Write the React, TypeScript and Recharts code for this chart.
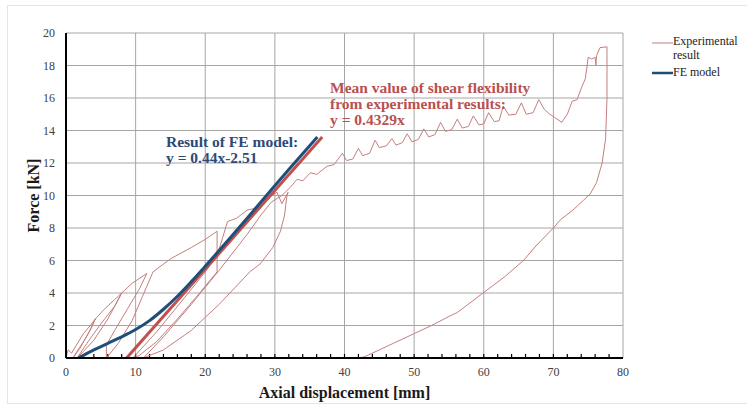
import { ComposedChart, Line, XAxis, YAxis, CartesianGrid, ReferenceLine } from 'recharts';

// axis ticks
const xTicks = [0, 10, 20, 30, 40, 50, 60, 70, 80];
const yTicks = [0, 2, 4, 6, 8, 10, 12, 14, 16, 18, 20];
const minorTicks = [2, 4, 6, 8, 10, 12, 14, 16, 18, 20, 22, 24, 26, 28, 30, 32, 34, 36, 38, 40,
  42, 44, 46, 48, 50, 52, 54, 56, 58, 60, 62, 64, 66, 68, 70, 72, 74, 76, 78];

// experimental result, read cycle by cycle [displacement mm, force kN]
const cycle1 = [[0, 0], [0.3, 0.5], [0.8, 0.3], [1.5, 0.8], [2.5, 1.5], [3.5, 2.0], [4.2, 2.4],
  [3.6, 1.8], [2.5, 1.0], [1.5, 0.35], [1.0, 0]];
const cycle2 = [[1.0, 0], [2, 0.6], [3.2, 1.5], [4.2, 2.4], [5.5, 3.0], [7, 3.6], [8, 4.0],
  [7.4, 3.5], [6, 2.4], [4, 1.1], [2.5, 0.4], [1.6, 0]];
const cycle3 = [[1.6, 0], [3, 0.9], [5, 2.1], [7, 3.2], [8, 4.0], [9.5, 4.6], [11.6, 5.2],
  [10.6, 4.3], [8.8, 3.0], [7, 1.7], [5.8, 0.8], [5.8, 0]];
const cycle4 = [[5.8, 0], [7.5, 0.9], [9.5, 2.3], [11, 3.8], [12.5, 5.3], [15, 6.1], [18, 6.8],
  [20, 7.3], [21.7, 7.8], [21.7, 5.3], [19, 3.9], [16, 2.4], [13, 1.0], [10.5, 0.15], [9.6, 0]];
const cycle5 = [[9.6, 0], [13, 1.6], [17, 3.7], [20, 5.3], [21.7, 6.3], [22.5, 7.4], [23.2, 8.4],
  [24.5, 8.6], [26, 9.1], [27, 9.2], [28, 9.6], [29.6, 10.0], [30.3, 10.2], [31, 9.5], [31.9, 10.2],
  [31.7, 9.9], [31.4, 8.8], [30.8, 7.8], [29.7, 6.8], [27.9, 5.8], [26.4, 5.3], [22, 3.3],
  [18, 1.7], [14, 0.5], [11.1, 0]];
const cycle6 = [[11.1, 0], [14, 1.3], [18, 3.3], [22, 5.4], [26, 7.6], [28, 8.8], [29.5, 9.6],
  [31, 10.0], [32.2, 10.5], [33.2, 11.0], [34.0, 10.9], [35.1, 11.4], [36, 11.3], [37.5, 11.8],
  [38.5, 11.9], [39.7, 12.6], [40.3, 12.15], [41.2, 12.25], [42.0, 12.9], [42.6, 12.45],
  [43.6, 12.6], [44.4, 13.4], [45.0, 12.95], [46.0, 13.05], [46.8, 13.5], [47.4, 13.1],
  [48.3, 13.25], [49.0, 13.8], [49.7, 13.3], [50.6, 13.45], [51.4, 14.1], [52.1, 13.6],
  [53.0, 13.75], [53.8, 14.5], [54.5, 13.95], [55.4, 14.05], [56.2, 14.7], [56.9, 14.15],
  [57.8, 14.25], [58.5, 14.9], [59.3, 14.35], [60.0, 14.4], [60.7, 15.1], [61.5, 14.55],
  [62.2, 14.6], [62.8, 15.5], [63.6, 14.95], [64.6, 15.0], [65.4, 15.7], [66.1, 15.0],
  [67.1, 15.1], [67.9, 15.9], [68.7, 15.3], [69.5, 15.0], [70.2, 14.8], [71.2, 14.5],
  [72.0, 15.0], [72.7, 15.8], [73.4, 15.9], [74.1, 16.7], [74.6, 17.2], [75.0, 18.5],
  [75.5, 18.4], [76.0, 18.5], [76.1, 18.0], [76.2, 18.6], [76.7, 19.1], [77.7, 19.15]];
const unloading = [[77.7, 19.15], [77.7, 16], [77.5, 13.5], [77.0, 12.0], [76.2, 10.8],
  [75.3, 10.1], [74.3, 9.7], [72.8, 9.1], [71, 8.5], [70, 8.0], [67.5, 6.9], [65.7, 6.0], [63, 5.0],
  [59.9, 4.0], [56.2, 2.8], [55.2, 2.6], [52.5, 2.0], [50, 1.5], [47, 0.9], [45, 0.5], [43.5, 0.2],
  [42.7, 0.05], [41.5, 0]];

// FE model curve
const feX = [1.8, 4, 6, 8, 10, 12, 14, 16, 18, 20, 24, 28, 32, 36.1];
const feY = [0, 0.5, 0.9, 1.3, 1.75, 2.3, 3.0, 3.8, 4.7, 5.65, 7.6, 9.6, 11.6, 13.6];

// mean shear flexibility line
const meanX = [8.7, 36.8];
const meanY = [0, 13.6];

const expData = [cycle1, cycle2, cycle3, cycle4, cycle5, cycle6, unloading]
  .flat()
  .map(([x, y]) => ({ x, y }));
const feData = feX.map((x, i) => ({ x, y: feY[i] }));
const meanData = meanX.map((x, i) => ({ x, y: meanY[i] }));

const serif = '"Liberation Serif", "Times New Roman", serif';
const expColor = '#c47f7e';
const feColor = '#1f4e79';
const meanColor = '#c0504d';

const XTick = ({ x, y, payload }: any) => (
  <text x={x} y={y + 9} textAnchor="middle" style={{ fontFamily: serif, fontSize: 12, fill: '#404040' }}>
    {payload.value}
  </text>
);

const YTick = ({ x, y, payload }: any) => (
  <text x={x} y={y + 4} textAnchor="end" style={{ fontFamily: serif, fontSize: 12, fill: '#404040' }}>
    {payload.value}
  </text>
);

export default function App() {
  return (
    <div style={{ position: 'absolute', left: 0, top: 0, width: 747, height: 406, overflow: 'hidden', background: '#fff', fontFamily: serif }}>
      <div style={{ position: 'absolute', left: 7, top: 5, width: 760, height: 397, border: '1px solid #dfe7eb' }} />
      <ComposedChart
        width={747}
        height={406}
        margin={{ top: 33, right: 124, bottom: 0, left: 0 }}
        style={{ position: 'absolute', left: 0, top: 0, fontFamily: serif }}
      >
        <CartesianGrid stroke="#a6a6a6" strokeWidth={1} />
        <XAxis
          type="number"
          dataKey="x"
          domain={[0, 80]}
          ticks={xTicks}
          height={48}
          tickLine={false}
          tickSize={0}
          tickMargin={9}
          axisLine={{ stroke: '#000', strokeWidth: 2 }}
          tick={<XTick />}
          allowDataOverflow
          label={{ value: 'Axial displacement [mm]', position: 'insideBottom', offset: 8, fontSize: 16, fontWeight: 'bold', fill: '#1a1a1a', fontFamily: serif }}
        />
        <YAxis
          type="number"
          domain={[0, 20]}
          ticks={yTicks}
          width={66}
          tickLine={false}
          tickSize={0}
          tickMargin={11}
          axisLine={{ stroke: '#000', strokeWidth: 2 }}
          tick={<YTick />}
          allowDataOverflow
          label={{ value: 'Force [kN]', angle: -90, position: 'center', fontSize: 16, fontWeight: 'bold', fill: '#1a1a1a', fontFamily: serif }}
        />
        {minorTicks.map((t) => (
          <ReferenceLine key={t} segment={[{ x: t, y: 0 }, { x: t, y: 0.25 }]} stroke="#000" strokeWidth={1.2} />
        ))}
        <Line data={expData} dataKey="y" type="linear" stroke={expColor} strokeWidth={1} dot={false} isAnimationActive={false} />
        <Line data={meanData} dataKey="y" type="linear" stroke={meanColor} strokeWidth={3} dot={false} isAnimationActive={false} />
        <Line data={feData} dataKey="y" type="monotoneX" stroke={feColor} strokeWidth={3} dot={false} isAnimationActive={false} />
      </ComposedChart>

      <div style={{ position: 'absolute', left: 166, top: 134, fontSize: 15.5, lineHeight: '16px', fontWeight: 'bold', color: '#2c4a78', whiteSpace: 'nowrap' }}>
        <div>Result of FE model:</div>
        <div>y = 0.44x-2.51</div>
      </div>
      <div style={{ position: 'absolute', left: 330, top: 80, fontSize: 15.5, lineHeight: '16px', fontWeight: 'bold', color: '#b8514f', whiteSpace: 'nowrap' }}>
        <div>Mean value of shear flexibility</div>
        <div>from experimental results:</div>
        <div>y = 0.4329x</div>
      </div>

      <div style={{ position: 'absolute', left: 652, top: 34, fontSize: 12, lineHeight: '14px', color: '#222' }}>
        <div style={{ display: 'flex', alignItems: 'flex-start' }}>
          <svg width={21} height={14}><line x1={0} y1={9} x2={21} y2={9} stroke={expColor} strokeWidth={1} /></svg>
          <div>Experimental<br />result</div>
        </div>
        <div style={{ display: 'flex', alignItems: 'flex-start', marginTop: 3 }}>
          <svg width={21} height={14}><line x1={0} y1={8} x2={21} y2={8} stroke={feColor} strokeWidth={2.5} /></svg>
          <div>FE model</div>
        </div>
      </div>
    </div>
  );
}
